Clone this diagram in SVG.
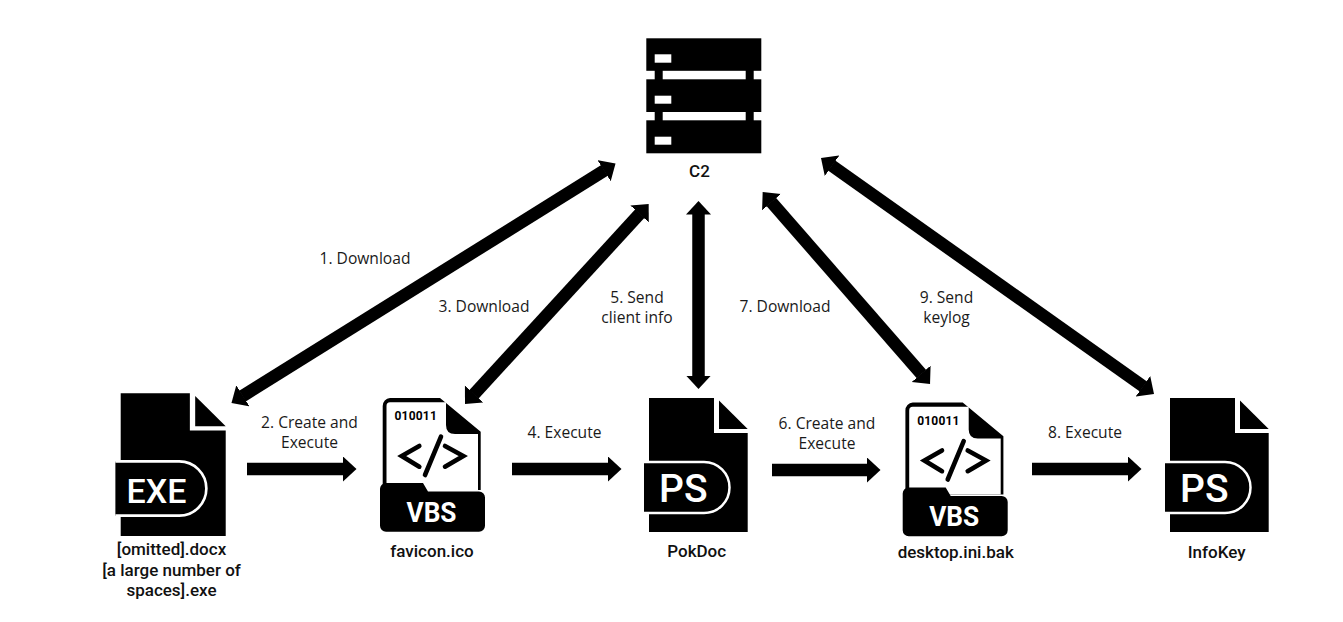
<svg xmlns="http://www.w3.org/2000/svg" width="1343" height="622" viewBox="0 0 1343 622">
<style>
.lbl{font:400 15.6px "Open Sans","Noto Sans",sans-serif;fill:#1a1a1a;text-anchor:middle}
.name{font:500 17px Roboto,"Noto Sans",sans-serif;fill:#111;text-anchor:middle}
.wire{fill:none;stroke:#000;stroke-width:12.5;marker-end:url(#head)}
.both{marker-start:url(#head)}
.ps{font:500 39px Roboto,sans-serif;fill:#fff}
.exe{font:500 34px Roboto,sans-serif;fill:#fff}
.vbs{font:700 28px Roboto,sans-serif;fill:#fff}
.bin{font:700 12px Roboto,sans-serif;fill:#000;letter-spacing:.2px}
.code{fill:none;stroke:#000;stroke-width:4.6;stroke-linecap:round;stroke-linejoin:miter}
</style>
<defs>
<marker id="head" markerUnits="userSpaceOnUse" markerWidth="15" markerHeight="26" refX="0.5" refY="12.5" orient="auto-start-reverse" viewBox="0 0 15 26">
<polygon points="0,0 13.5,12.5 0,25"/>
</marker>
<g id="fileIcon">
<path d="M0,0H65V35H98.7V134H0Z" fill="#000"/>
<path d="M70,2.5L98.7,31H70Z" fill="#000"/>
<path d="M-5,64H55a25.5,25.5 0 0 1 0,51H-5Z" fill="#000"/>
<path d="M-5,64H55a25.5,25.5 0 0 1 0,51H-5" fill="none" stroke="#fff" stroke-width="2.5"/>
</g>
<g id="codeIcon">
<path d="M10,0H60L100.7,33.7V92H2.7V8A8,8 0 0 1 10,0Z" fill="#000"/>
<path d="M10,4.3H66V27Q66,36 75,36H98V92H6.5V8Q6.5,4.3 10,4.3Z" fill="#fff"/>
<path d="M6,85H43L48,93.5H99A6,6 0 0 1 105,99.5V127.7A6,6 0 0 1 99,133.7H6A6,6 0 0 1 0,127.7V91A6,6 0 0 1 6,85Z" fill="#000"/>
<path class="code" d="M39.3,48L21.7,58L39.3,68.7M65,48L83.3,58L65,68.7M61,38.7L45,77"/>
</g>
</defs>
<g id="connectors">
<path class="wire both" d="M242.5,396.1L604.5,170.4"/>
<path class="wire both" d="M473.8,394.4L639.9,213.6"/>
<path class="wire both" d="M698.5,214V376"/>
<path class="wire both" d="M771.2,201.8L921.5,374.2"/>
<path class="wire both" d="M831.6,165.5L1143.4,386.5"/>
<path class="wire" d="M247,469H343.5"/>
<path class="wire" d="M512,469H608.5"/>
<path class="wire" d="M772,470H867.5"/>
<path class="wire" d="M1032,469H1128.5"/>
</g>
<g id="labels">
<text class="lbl" x="365" y="264">1. Download</text>
<text class="lbl" y="428"><tspan x="309.5">2. Create and</tspan><tspan x="309.5" dy="20">Execute</tspan></text>
<text class="lbl" x="484" y="312">3. Download</text>
<text class="lbl" x="564.5" y="438">4. Execute</text>
<text class="lbl" y="303"><tspan x="637">5. Send</tspan><tspan x="637" dy="19.5">client info</tspan></text>
<text class="lbl" y="429"><tspan x="827">6. Create and</tspan><tspan x="827" dy="19.5">Execute</tspan></text>
<text class="lbl" x="785" y="312">7. Download</text>
<text class="lbl" x="1085" y="438">8. Execute</text>
<text class="lbl" y="303"><tspan x="946.5">9. Send</tspan><tspan x="946.5" dy="20">keylog</tspan></text>
</g>
<g id="node-c2">
<rect x="646.3" y="38.3" width="115" height="32.5"/>
<rect x="646.3" y="79.3" width="115" height="32.7"/>
<rect x="646.3" y="120.3" width="115" height="33"/>
<rect x="654.7" y="70" width="8" height="51"/>
<rect x="745.7" y="70" width="8" height="51"/>
<rect x="654.7" y="54.3" width="16.6" height="8.4" fill="#fff"/>
<rect x="654.7" y="95.7" width="16.6" height="8" fill="#fff"/>
<rect x="654.7" y="136.7" width="16.6" height="8" fill="#fff"/>
<text class="name" x="699.5" y="176.5">C2</text>
</g>
<g id="node-exe">
<use href="#fileIcon" transform="translate(120.7,393.3) scale(1.064)"/>
<text class="exe" x="126.5" y="502.7">EXE</text>
<text class="name" y="555"><tspan x="171.5">[omitted].docx</tspan><tspan x="171.5" dy="20.5">[a large number of</tspan><tspan x="171.5" dy="20.5">spaces].exe</tspan></text>
</g>
<g id="node-favicon">
<use href="#codeIcon" transform="translate(380,398)"/>
<text class="bin" x="394.5" y="420">010011</text>
<text class="vbs" x="406.5" y="521.7" textLength="50" lengthAdjust="spacingAndGlyphs">VBS</text>
<text class="name" x="432" y="556.7">favicon.ico</text>
</g>
<g id="node-pokdoc">
<use href="#fileIcon" transform="translate(649,398)"/>
<text class="ps" x="659" y="502">PS</text>
<text class="name" x="696.7" y="557.3">PokDoc</text>
</g>
<g id="node-desktop">
<use href="#codeIcon" transform="translate(902.7,402.5)"/>
<text class="bin" x="917.2" y="424.5">010011</text>
<text class="vbs" x="929.2" y="526.2" textLength="50" lengthAdjust="spacingAndGlyphs">VBS</text>
<text class="name" x="955.7" y="558">desktop.ini.bak</text>
</g>
<g id="node-infokey">
<use href="#fileIcon" transform="translate(1170,398)"/>
<text class="ps" x="1180" y="502">PS</text>
<text class="name" x="1216.7" y="558.3">InfoKey</text>
</g>
</svg>
